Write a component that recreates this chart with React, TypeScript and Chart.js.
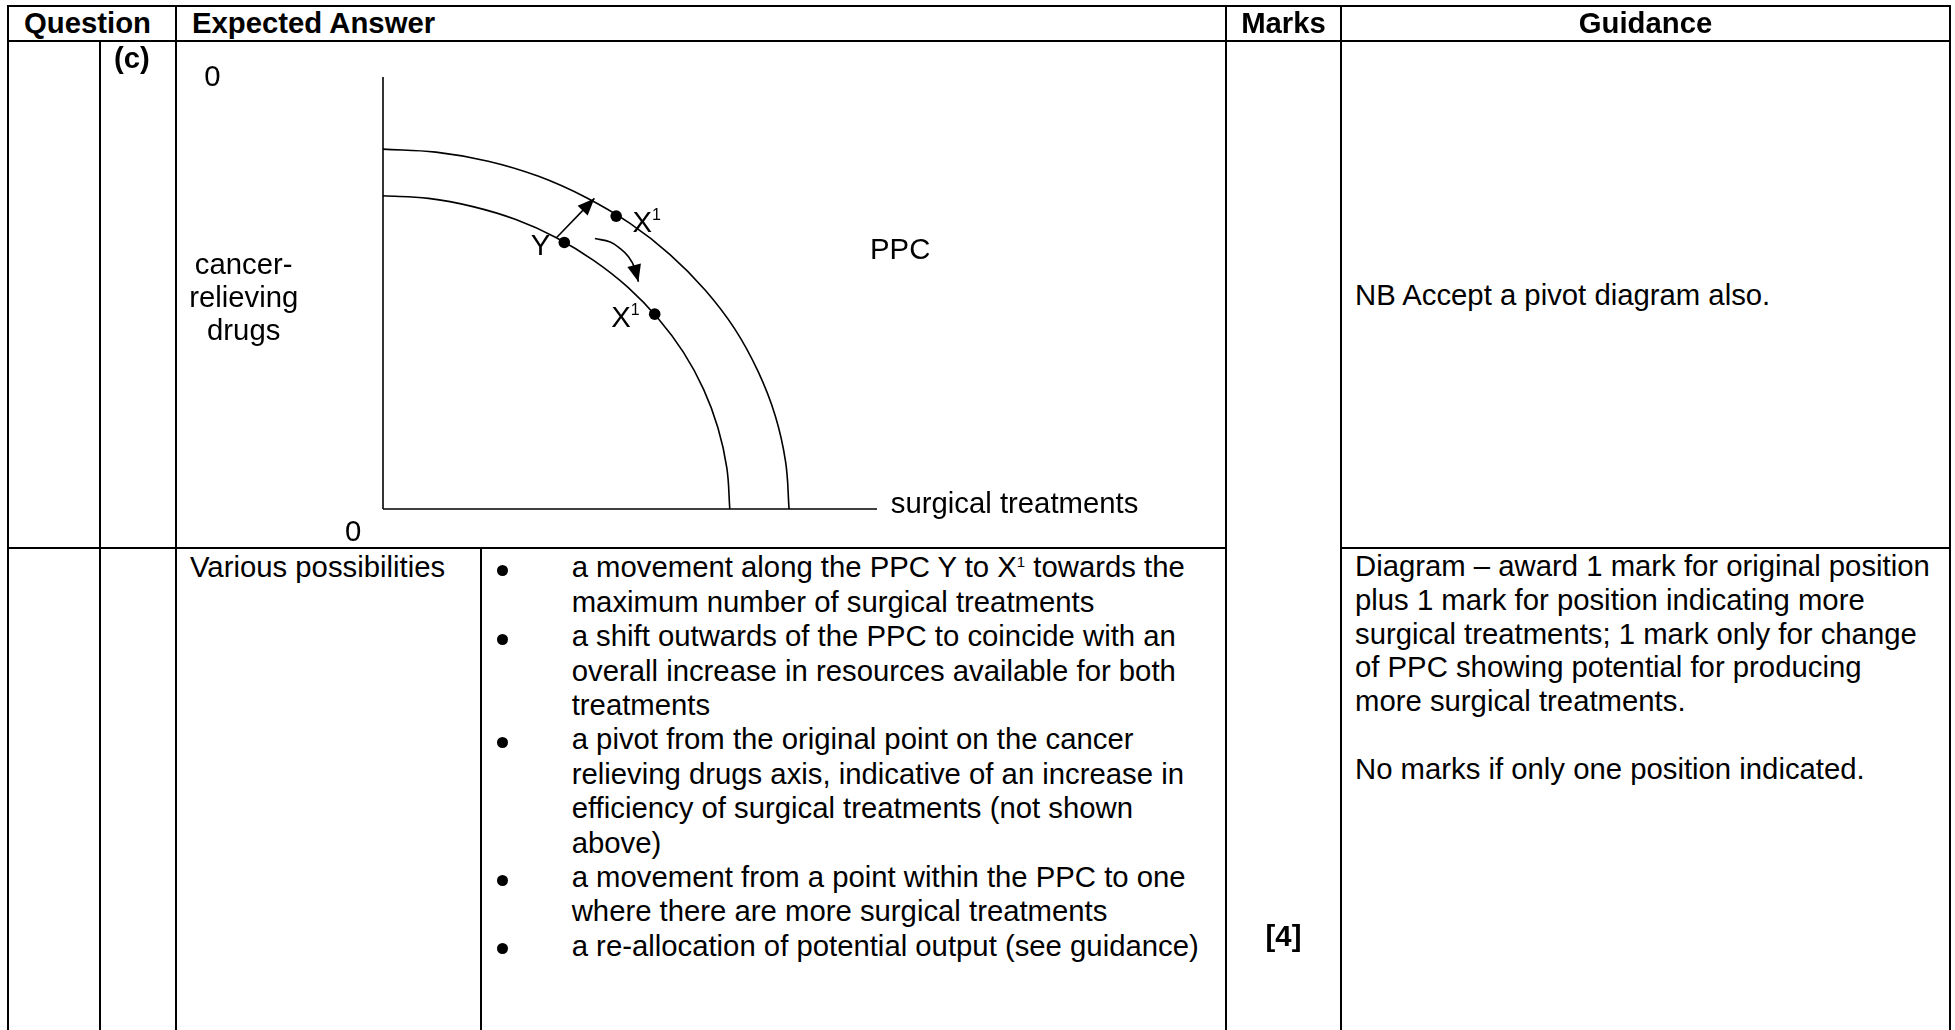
import React, { useEffect, useRef } from 'react';
import Chart from 'chart.js/auto';

const FONT = '"Liberation Sans", Arial, Helvetica, sans-serif';
const FS = 29.3;

// ---- PPC diagram values (x: surgical treatments, y: cancer-relieving drugs) ----
const innerPPCX = [0, 9.2, 18.2, 26.9, 35.1, 42.7, 49.6, 55.7, 60.8, 64.9, 67.8, 69.6, 70.2];
const innerPPCY = [72.5, 71.9, 70.0, 67.0, 62.8, 57.5, 51.3, 44.1, 36.3, 27.7, 18.8, 9.5, 0];
const outerPPCX = [0, 10.7, 21.3, 31.5, 41.1, 50.0, 58.1, 65.2, 71.2, 75.9, 79.4, 81.5, 82.2];
const outerPPCY = [83.3, 82.6, 80.5, 77.0, 72.1, 66.1, 58.9, 50.7, 41.7, 31.9, 21.6, 10.9, 0];
const axisExtentX = [0, 100];
const axisExtentY = [0, 100];
const pointNames = ['Y', 'X1 (outer)', 'X1 (inner)'];
const pointX = [36.7, 47.2, 55.0];
const pointY = [61.7, 67.8, 45.1];
const shiftArrowX = [35.2, 42.8];
const shiftArrowY = [62.9, 71.9];
const moveArrowX = [42.9, 46.0, 48.0, 49.7, 51.0, 51.7];
const moveArrowY = [62.6, 61.8, 60.3, 58.4, 55.7, 52.6];

// ---- diagram annotations (anchor in data units) ----
const diagramLabels = [
  { text: '0', x: -36.2, y: 97.9, align: 'left' },
  { text: 'cancer-', x: -28.2, y: 54.4, align: 'center' },
  { text: 'relieving', x: -28.2, y: 46.8, align: 'center' },
  { text: 'drugs', x: -28.2, y: 39.1, align: 'center' },
  { text: '0', x: -7.7, y: -7.4, align: 'left' },
  { text: 'Y', x: 29.9, y: 58.8, align: 'left' },
  { text: 'X', sup: '1', x: 50.5, y: 64.2, align: 'left' },
  { text: 'X', sup: '1', x: 46.2, y: 42.2, align: 'left' },
  { text: 'PPC', x: 98.6, y: 57.9, align: 'left' },
  { text: 'surgical treatments', x: 102.8, y: -0.9, align: 'left' },
];

// ---- table texts ----
const headerTexts = ['Question', 'Expected Answer', 'Marks', 'Guidance'];
const questionPart = '(c)';
const diagramGuidance = 'NB Accept a pivot diagram also.';
const answerIntro = 'Various possibilities';
const bulletLines: string[][] = [
  ['a movement along the PPC Y to X^1 towards the', 'maximum number of surgical treatments'],
  ['a shift outwards of the PPC to coincide with an', 'overall increase in resources available for both', 'treatments'],
  ['a pivot from the original point on the cancer', 'relieving drugs axis, indicative of an increase in', 'efficiency of surgical treatments (not shown', 'above)'],
  ['a movement from a point within the PPC to one', 'where there are more surgical treatments'],
  ['a re-allocation of potential output (see guidance)'],
];
const guidanceLines = [
  'Diagram \u2013 award 1 mark for original position',
  'plus 1 mark for position indicating more',
  'surgical treatments; 1 mark only for change',
  'of PPC showing potential for producing',
  'more surgical treatments.',
  '',
  'No marks if only one position indicated.',
];
const marksText = '[4]';

const LH = 34;
const topFor = (baseline: number) => baseline - (LH / 2 + 0.3465 * FS);

function renderWithSup(s: string) {
  const parts = s.split('^1');
  if (parts.length === 1) return s;
  return (
    <>
      {parts[0]}
      <span style={{ fontSize: '15px', verticalAlign: '10px', lineHeight: 0 }}>1</span>
      {parts[1]}
    </>
  );
}

function Txt(props: { x: number; baseline: number; children: any; bold?: boolean; center?: boolean }) {
  const { x, baseline, children, bold, center } = props;
  const style: any = {
    position: 'absolute',
    top: topFor(baseline),
    fontSize: FS + 'px',
    lineHeight: LH + 'px',
    fontWeight: bold ? 'bold' : 'normal',
    whiteSpace: 'nowrap',
  };
  if (center) {
    style.left = x - 300;
    style.width = 600;
    style.textAlign = 'center';
  } else {
    style.left = x;
  }
  return <div style={style}>{children}</div>;
}

const hLines = [
  [6, 8, 1950],
  [41, 8, 1950],
  [548, 8, 1226],
  [548, 1341, 1950],
];
const vLines = [
  [8, 6, 1030],
  [100, 41, 1030],
  [176, 6, 1030],
  [481, 548, 1030],
  [1226, 6, 1030],
  [1341, 6, 1030],
  [1950, 6, 1030],
];

const decorPlugin = {
  id: 'ppcDecor',
  afterDatasetsDraw(chart: any) {
    const ctx = chart.ctx;
    const xs = chart.scales.x;
    const ys = chart.scales.y;
    chart.data.datasets.forEach((ds: any) => {
      if (!ds.arrowHead) return;
      const pts = ds.data;
      const n = pts.length;
      const tx = xs.getPixelForValue(pts[n - 1].x);
      const ty = ys.getPixelForValue(pts[n - 1].y);
      const px = xs.getPixelForValue(pts[n - 2].x);
      const py = ys.getPixelForValue(pts[n - 2].y);
      const a = Math.atan2(ty - py, tx - px);
      const L = 17;
      const W = 7;
      ctx.save();
      ctx.fillStyle = '#000';
      ctx.beginPath();
      ctx.moveTo(tx, ty);
      ctx.lineTo(tx - L * Math.cos(a) + W * Math.sin(a), ty - L * Math.sin(a) - W * Math.cos(a));
      ctx.lineTo(tx - L * Math.cos(a) - W * Math.sin(a), ty - L * Math.sin(a) + W * Math.cos(a));
      ctx.closePath();
      ctx.fill();
      ctx.restore();
    });
    ctx.save();
    ctx.fillStyle = '#000';
    ctx.textBaseline = 'alphabetic';
    diagramLabels.forEach((lb) => {
      const x = xs.getPixelForValue(lb.x);
      const y = ys.getPixelForValue(lb.y);
      ctx.font = `${FS}px ${FONT}`;
      ctx.textAlign = lb.align as CanvasTextAlign;
      ctx.fillText(lb.text, x, y);
      if (lb.sup) {
        const w = ctx.measureText(lb.text).width;
        ctx.font = `16px ${FONT}`;
        ctx.textAlign = 'left';
        ctx.fillText(lb.sup, x + w, y - 11.3);
      }
    });
    ctx.restore();
  },
};

const pts = (xs: number[], ys: number[]) => xs.map((x, i) => ({ x, y: ys[i] }));

export default function App() {
  const canvasRef = useRef<HTMLCanvasElement>(null);

  useEffect(() => {
    const lineBase = {
      showLine: true,
      borderColor: '#000',
      borderWidth: 1.6,
      pointRadius: 0,
      clip: false,
      fill: false,
    };
    const chart = new Chart(canvasRef.current as HTMLCanvasElement, {
      type: 'scatter',
      data: {
        datasets: [
          { ...lineBase, label: 'x-axis', data: axisExtentX.map((x) => ({ x, y: 0 })) },
          { ...lineBase, label: 'y-axis', data: axisExtentY.map((y) => ({ x: 0, y })) },
          { ...lineBase, label: 'PPC (original)', data: pts(innerPPCX, innerPPCY), tension: 0.4 },
          { ...lineBase, label: 'PPC (shifted)', data: pts(outerPPCX, outerPPCY), tension: 0.4 },
          { ...lineBase, label: 'shift', data: pts(shiftArrowX, shiftArrowY), arrowHead: true } as any,
          { ...lineBase, label: 'movement', data: pts(moveArrowX, moveArrowY), tension: 0.4, arrowHead: true } as any,
          {
            label: 'points',
            data: pointX.map((x, i) => ({ x, y: pointY[i], name: pointNames[i] })),
            showLine: false,
            pointRadius: 5.8,
            pointBackgroundColor: '#000',
            pointBorderColor: '#000',
            pointBorderWidth: 0,
            clip: false,
          } as any,
        ],
      },
      options: {
        animation: false,
        responsive: false,
        devicePixelRatio: 1,
        events: [],
        layout: { padding: { left: 207, right: 348, top: 36, bottom: 39 } },
        scales: {
          x: { type: 'linear', min: 0, max: 100, display: false },
          y: { type: 'linear', min: 0, max: 100, display: false },
        },
        plugins: { legend: { display: false }, tooltip: { enabled: false } },
      },
      plugins: [decorPlugin],
    } as any);
    return () => chart.destroy();
  }, []);

  const bulletRows: { first: boolean; text: string }[] = [];
  bulletLines.forEach((b) => b.forEach((t, i) => bulletRows.push({ first: i === 0, text: t })));

  return (
    <div
      style={{
        position: 'absolute',
        left: 0,
        top: 0,
        width: 1955,
        height: 1030,
        background: '#fff',
        overflow: 'hidden',
        fontFamily: FONT,
        color: '#000',
      }}
    >
      <canvas
        ref={canvasRef}
        width={1049}
        height={507}
        style={{ position: 'absolute', left: 176, top: 41, width: 1049, height: 507 }}
      />
      {hLines.map(([y, x1, x2], i) => (
        <div key={'h' + i} style={{ position: 'absolute', left: x1 - 1, top: y - 1, width: x2 - x1 + 2, height: 2, background: '#000' }} />
      ))}
      {vLines.map(([x, y1, y2], i) => (
        <div key={'v' + i} style={{ position: 'absolute', left: x - 1, top: y1 - 1, width: 2, height: y2 - y1 + 2, background: '#000' }} />
      ))}

      <Txt x={24} baseline={33.5} bold>{headerTexts[0]}</Txt>
      <Txt x={192} baseline={33.5} bold>{headerTexts[1]}</Txt>
      <Txt x={1283.5} baseline={33.5} bold center>{headerTexts[2]}</Txt>
      <Txt x={1645.5} baseline={33.5} bold center>{headerTexts[3]}</Txt>

      <Txt x={114} baseline={68.5} bold>{questionPart}</Txt>
      <Txt x={1355} baseline={305.5}>{diagramGuidance}</Txt>

      <Txt x={190} baseline={577.5}>{answerIntro}</Txt>
      {bulletRows.map((r, i) => (
        <React.Fragment key={'b' + i}>
          {r.first && (
            <div
              style={{
                position: 'absolute',
                left: 502.3 - 5.5,
                top: 577.5 + i * 34.4 - 7 - 5.5,
                width: 11,
                height: 11,
                borderRadius: '50%',
                background: '#000',
              }}
            />
          )}
          <Txt x={571.7} baseline={577.5 + i * 34.4}>{renderWithSup(r.text)}</Txt>
        </React.Fragment>
      ))}
      {guidanceLines.map((t, i) =>
        t ? (
          <Txt key={'g' + i} x={1355} baseline={576.5 + i * 33.7}>{t}</Txt>
        ) : null
      )}
      <Txt x={1283.5} baseline={946} bold center>{marksText}</Txt>
    </div>
  );
}
